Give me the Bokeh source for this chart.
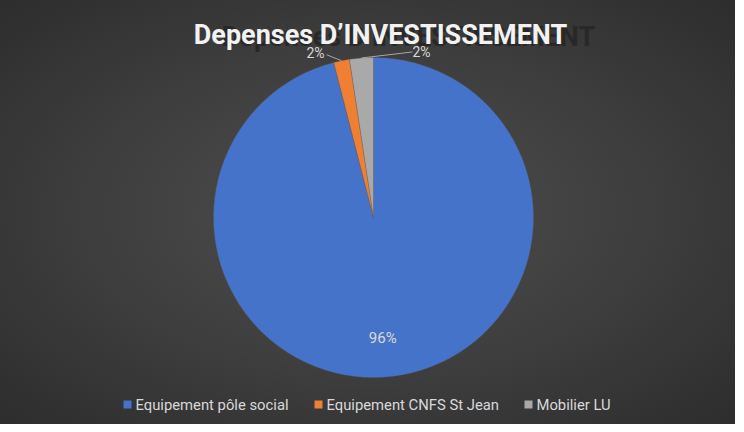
import numpy as np
from bokeh.plotting import figure
from bokeh.models import Range1d, ColumnDataSource
from bokeh.core.properties import value
from bokeh.embed import file_html
from bokeh.resources import INLINE

# ---- data ----
categories = ["Equipement pôle social", "Equipement CNFS St Jean", "Mobilier LU"]
values = [96.0, 1.6, 2.4]
pct_labels = ["96%", "2%", "2%"]
colors = ["#4673CA", "#EF7F32", "#A9A9A9"]
title_text = "Depenses D\u2019INVESTISSEMENT"

# ---- layout constants ----
W, H = 735, 424
cx, cy, R = 373, 207, 160
FONT = "Roboto"

p = figure(width=W, height=H, x_range=Range1d(0, W), y_range=Range1d(0, H),
           output_backend="svg", toolbar_location=None, min_border=0)
p.axis.visible = False
p.grid.visible = False
p.outline_line_color = None
p.background_fill_alpha = 0
p.border_fill_alpha = 0
p.styles = {"background": "radial-gradient(ellipse at 50% 50%, #4e4e4e 0%, #3f3f3f 50%, #2d2d2d 100%)"}

vals = np.array(values, dtype=float)
frac = vals / vals.sum()
cum = np.concatenate([[0], np.cumsum(frac)])
start = np.pi / 2 - cum[:-1] * 2 * np.pi
end = np.pi / 2 - cum[1:] * 2 * np.pi
mid = (start + end) / 2

src = ColumnDataSource(dict(start=start, end=end, color=colors, cat=categories))
p.wedge(x=cx, y=cy, radius=R, start_angle="start", end_angle="end",
        direction="clock", fill_color="color", line_color="#5a5a5a",
        line_width=0.5, line_alpha=0.6, source=src)

# inside label for the big slice
p.text(x=[cx + 0.76 * R * np.cos(mid[0])], y=[cy + 0.76 * R * np.sin(mid[0])],
       x_offset=-6, text=[pct_labels[0]], text_color="#d9d9d9", text_font=value(FONT),
       text_font_size="15px", text_align="center", text_baseline="middle")

# outside labels with leader lines for the small slices
label_dx = [None, -26, 60]
label_dy = [None, 8, 6]
line_dx = [None, -15, 51]
line_dy = [None, 6, 6]
for i in (1, 2):
    ex = cx + R * np.cos(mid[i])
    ey = cy + R * np.sin(mid[i])
    p.segment(x0=[ex], y0=[ey], x1=[ex + line_dx[i]], y1=[ey + line_dy[i]],
              line_color="#a6a6a6", line_width=1)
    p.text(x=[ex + label_dx[i]], y=[ey + label_dy[i]], text=[pct_labels[i]],
           text_color="#d9d9d9", text_font=value(FONT), text_font_size="14px",
           text_align="center", text_baseline="middle")

# title with shadow
tx, ty = 380, 390
p.text(x=[tx + 28], y=[ty - 2], text=[title_text], text_color="#282828",
       text_font=value(FONT), text_font_size="27px", text_font_style="bold",
       text_align="center", text_baseline="middle")
p.text(x=[tx], y=[ty], text=[title_text], text_color="#f2f2f2",
       text_font=value(FONT), text_font_size="27px", text_font_style="bold",
       text_align="center", text_baseline="middle")

# legend
leg_y = 20
sq_x = [127, 318, 528]
for i, cat in enumerate(categories):
    p.scatter(x=[sq_x[i]], y=[leg_y], marker="square", size=8,
              fill_color=colors[i], line_color=None)
    p.text(x=[sq_x[i] + 8], y=[leg_y], text=[cat], text_color="#d9d9d9",
           text_font=value(FONT), text_font_size="14.8px",
           text_align="left", text_baseline="middle")

open("out.html", "w").write(file_html(p, INLINE))
